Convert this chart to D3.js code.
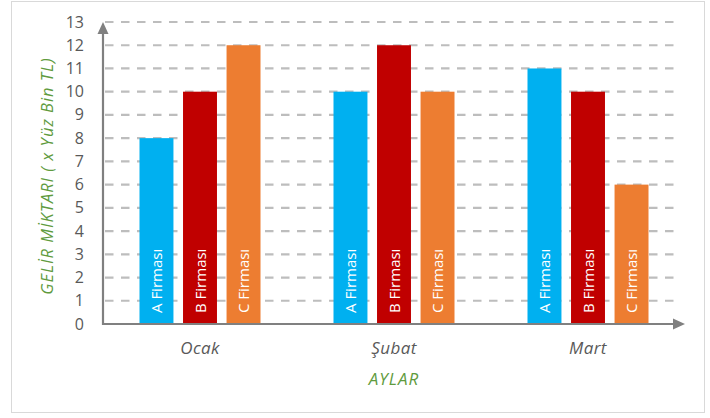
<!DOCTYPE html>
<html>
<head>
<meta charset="utf-8">
<script src="https://cdn.jsdelivr.net/npm/d3@7"></script>
<style>
  body { margin: 0; background: #fff; }
  text { font-family: "Open Sans", "Noto Sans", sans-serif; }
</style>
</head>
<body>
<div id="chart"></div>
<script>
// chart data
let months = ["Ocak", "Şubat", "Mart"];
let firms = ["A Firması", "B Firması", "C Firması"];
let aValues = [8, 10, 11];
let bValues = [10, 12, 10];
let cValues = [12, 10, 6];
let yTicks = [0, 1, 2, 3, 4, 5, 6, 7, 8, 9, 10, 11, 12, 13];
let firmColors = ["#00b0f0", "#c00000", "#ed7d31"];

let svgW = 710, svgH = 418;
let plotL = 103, plotR = 685, plotT = 22, plotB = 324;
let titleGreen = "#5f9b3e";

let rows = months.map(function(m, i) {
  return { month: m, values: [aValues[i], bValues[i], cValues[i]] };
});

let svg = d3.select("#chart").append("svg")
    .attr("width", svgW)
    .attr("height", svgH);

// outer frame
svg.append("rect")
  .attr("x", 11.5).attr("y", 1.5)
  .attr("width", 693).attr("height", 411)
  .attr("fill", "#fff")
  .attr("stroke", "#d9d9d9");

let xScale = d3.scaleBand().domain(months).range([plotL, plotR]).padding(0);
let xInner = d3.scaleBand().domain(firms)
    .range([36.5, xScale.bandwidth() - 36.5]).paddingInner(0.22);
let yScale = d3.scaleLinear().domain([0, 13]).range([plotB, plotT]);

// dashed gridlines
svg.append("g")
  .selectAll("line")
  .data(yTicks.filter(d => d > 0))
  .enter()
  .append("line")
  .attr("x1", plotL + 2).attr("x2", plotR - 5)
  .attr("y1", d => yScale(d)).attr("y2", d => yScale(d))
  .attr("stroke", "#bdbdbd")
  .attr("stroke-width", 2.2)
  .attr("stroke-dasharray", "8.5,7.5");

// bars
let groups = svg.append("g")
  .selectAll("g")
  .data(rows)
  .enter()
  .append("g")
  .attr("transform", d => "translate(" + xScale(d.month) + ",0)");

groups.selectAll("rect")
  .data(d => d.values.map((v, j) => ({ firm: firms[j], value: v, color: firmColors[j] })))
  .enter()
  .append("rect")
  .attr("x", d => xInner(d.firm))
  .attr("width", xInner.bandwidth())
  .attr("y", d => yScale(d.value))
  .attr("height", d => yScale(0) - yScale(d.value))
  .attr("fill", d => d.color);

groups.selectAll("text")
  .data(d => d.values.map((v, j) => ({ firm: firms[j] })))
  .enter()
  .append("text")
  .attr("transform", d => "translate(" + (xInner(d.firm) + xInner.bandwidth() / 2 + 5.5) + "," + (plotB - 11) + ") rotate(-90)")
  .attr("fill", "#fff")
  .attr("font-size", 15)
  .text(d => d.firm);

// axes
let axisColor = "#808080";
svg.append("line")
  .attr("x1", plotL).attr("x2", plotL)
  .attr("y1", plotB + 1).attr("y2", plotT + 8)
  .attr("stroke", axisColor).attr("stroke-width", 2.2);
svg.append("path")
  .attr("d", "M" + plotL + "," + plotT + "L" + (plotL - 5.5) + "," + (plotT + 12) + "L" + (plotL + 5.5) + "," + (plotT + 12) + "Z")
  .attr("fill", axisColor);
svg.append("line")
  .attr("x1", plotL - 1).attr("x2", plotR - 8)
  .attr("y1", plotB).attr("y2", plotB)
  .attr("stroke", axisColor).attr("stroke-width", 2.2);
svg.append("path")
  .attr("d", "M" + plotR + "," + plotB + "L" + (plotR - 12) + "," + (plotB - 5.5) + "L" + (plotR - 12) + "," + (plotB + 5.5) + "Z")
  .attr("fill", axisColor);

// y tick labels
svg.append("g")
  .selectAll("text")
  .data(yTicks)
  .enter()
  .append("text")
  .attr("x", 84)
  .attr("y", d => yScale(d) + 5.5)
  .attr("text-anchor", "end")
  .attr("font-size", 16)
  .attr("fill", "#595959")
  .text(d => d);

// month labels
svg.append("g")
  .selectAll("text")
  .data(months)
  .enter()
  .append("text")
  .attr("x", d => xScale(d) + xScale.bandwidth() / 2)
  .attr("y", 354)
  .attr("text-anchor", "middle")
  .attr("font-size", 17)
  .attr("letter-spacing", 0.4)
  .attr("font-style", "italic")
  .attr("fill", "#595959")
  .text(d => d);

// axis titles
svg.append("text")
  .attr("x", (plotL + plotR) / 2)
  .attr("y", 385)
  .attr("text-anchor", "middle")
  .attr("font-size", 17)
  .attr("letter-spacing", 1)
  .attr("font-style", "italic")
  .attr("fill", titleGreen)
  .text("AYLAR");

svg.append("text")
  .attr("transform", "translate(53," + ((plotT + plotB) / 2 + 3) + ") rotate(-90)")
  .attr("text-anchor", "middle")
  .attr("font-size", 16.5)
  .attr("letter-spacing", 1)
  .attr("font-style", "italic")
  .attr("fill", titleGreen)
  .text("GELİR MİKTARI ( x Yüz Bin TL)");
</script>
</body>
</html>
